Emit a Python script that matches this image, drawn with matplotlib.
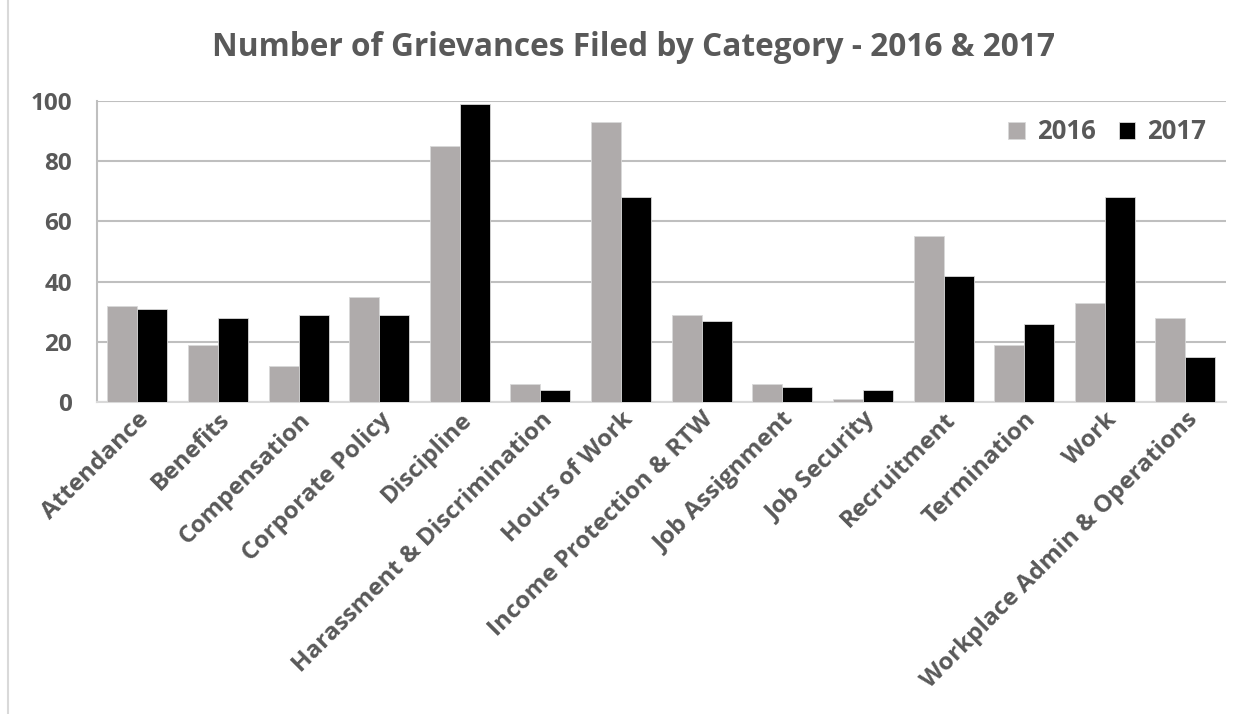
import matplotlib.pyplot as plt
import numpy as np
from matplotlib.lines import Line2D

categories = ["Attendance", "Benefits", "Compensation", "Corporate Policy", "Discipline",
              "Harassment & Discrimination", "Hours of Work", "Income Protection & RTW",
              "Job Assignment", "Job Security", "Recruitment", "Termination", "Work",
              "Workplace Admin & Operations"]
values_2016 = [32, 19, 12, 35, 85, 6, 93, 29, 6, 1, 55, 19, 33, 28]
values_2017 = [31, 28, 29, 29, 99, 4, 68, 27, 5, 4, 42, 26, 68, 15]
yticks = [0, 20, 40, 60, 80, 100]

text_color = "#595959"
grid_color = "#BFBFBF"
plt.rcParams['font.family'] = ['Open Sans', 'DejaVu Sans']

fig = plt.figure(figsize=(12.52, 7.14), dpi=100)
ax = fig.add_axes([0.0775, 0.437, 0.9015, 0.4215])

x = np.arange(len(categories))
w = 0.372
ax.bar(x - w / 2, values_2016, w, color="#AFABAB", edgecolor="#D9D9D9", linewidth=0.6, label="2016", zorder=3)
ax.bar(x + w / 2, values_2017, w, color="#000000", edgecolor="#D9D9D9", linewidth=0.6, label="2017", zorder=3)

ax.set_xlim(-0.5, len(categories) - 0.5)
ax.set_ylim(0, 100)
ax.set_yticks(yticks)
ax.yaxis.grid(True, color=grid_color, linewidth=1.5, zorder=0)
ax.set_axisbelow(True)
for side in ["top", "right"]:
    ax.spines[side].set_visible(False)
ax.spines["left"].set_color(grid_color)
ax.spines["left"].set_linewidth(1.5)
ax.spines["bottom"].set_color("#D9D9D9")
ax.spines["bottom"].set_linewidth(1.5)
ax.tick_params(axis="both", length=0, colors=text_color, labelsize=17.5)
ax.tick_params(axis="y", pad=18)
ax.tick_params(axis="x", pad=4)
ax.set_xticks(x)
ax.set_xticklabels(categories, rotation=45, ha="right", rotation_mode="anchor",
                   fontsize=17.5, fontweight="bold", color=text_color)
for lab in ax.get_yticklabels():
    lab.set_fontweight("bold")

leg = ax.legend(loc="upper right", frameon=False, ncol=2, fontsize=18.5, handlelength=0.65,
                handleheight=0.65, handletextpad=0.45, columnspacing=0.9,
                bbox_to_anchor=(1.003, 1.02))
for t in leg.get_texts():
    t.set_color(text_color)
    t.set_fontweight("bold")

fig.text(0.5056, 0.934, "Number of Grievances Filed by Category - 2016 & 2017",
         ha="center", va="center", fontsize=22.8, fontweight="bold", color=text_color)

fig.lines.append(Line2D([0.0065, 0.0065], [0, 1], transform=fig.transFigure,
                        color="#D9D9D9", linewidth=1.5))

fig.savefig("out.png", dpi=100)
